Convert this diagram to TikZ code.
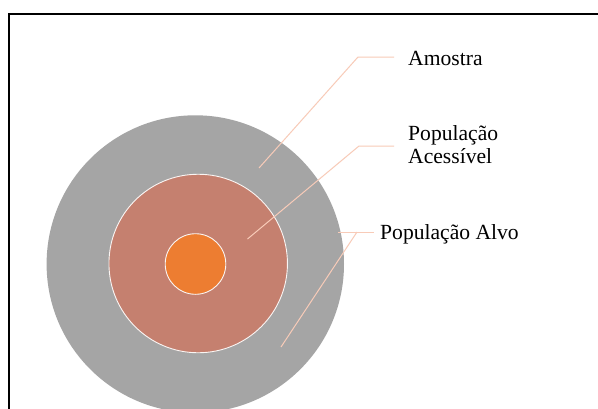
\documentclass[tikz,border=0pt]{standalone}
\usepackage{fontspec}
\setmainfont{Liberation Serif}
\definecolor{ringgrey}{HTML}{A5A5A5}
\definecolor{ringred}{HTML}{C5806F}
\definecolor{ringorange}{HTML}{ED7D31}
\definecolor{leadercol}{HTML}{F8CBB8}
\begin{document}
\begin{tikzpicture}[x=1pt,y=-1pt,
  ring/.style={circle, inner sep=0pt, draw=white!92!ringred, line width=0.9pt},
  leader/.style={draw=leadercol, line width=1pt},
  lbl/.style={font=\fontsize{21.6}{23}\selectfont, inner sep=0pt, anchor=base west}]
\useasboundingbox (0,0) rectangle (598,408);
\clip (0,0) rectangle (598,408);
\fill[white] (0,0) rectangle (598,408);
% frame, open towards right and bottom
\draw[line width=2pt] (9.3,520) -- (9.3,14.3) -- (720,14.3);

% nested populations
\node[circle, inner sep=0pt, fill=ringgrey, minimum size=297.4pt] (alvo) at (195.3,264) {};
\node[ring, fill=ringred, minimum size=178.5pt] (acess) at (198.2,263.5) {};
\node[ring, fill=ringorange, minimum size=60.6pt] (amostra) at (195.5,264) {};

% labels
\node[lbl] (tAmostra) at (408,65) {Amostra};
\node[lbl] (tAcess1) at (408,140.5) {População};
\node[lbl] (tAcess2) at (408,163.5) {Acessível};
\node[lbl] (tAlvo) at (380,239.5) {População Alvo};

% leader lines
\coordinate (pAmostra) at (259,168);
\coordinate (pAcess) at (247.5,239);
\coordinate (pAlvo) at (281,347);
\coordinate (hAlvo) at (338,232);
\draw[leader] (pAmostra) -- (358,57) -- ([xshift=-14pt]tAmostra.base west |- 0,57);
\draw[leader] (pAcess) -- (359,146) -- ([xshift=-14pt]tAcess1.base west |- 0,146);
\draw[leader] (hAlvo) -- ([xshift=-6pt]tAlvo.base west |- 0,232);
\draw[leader] (pAlvo) -- (357,232);
\end{tikzpicture}
\end{document}
